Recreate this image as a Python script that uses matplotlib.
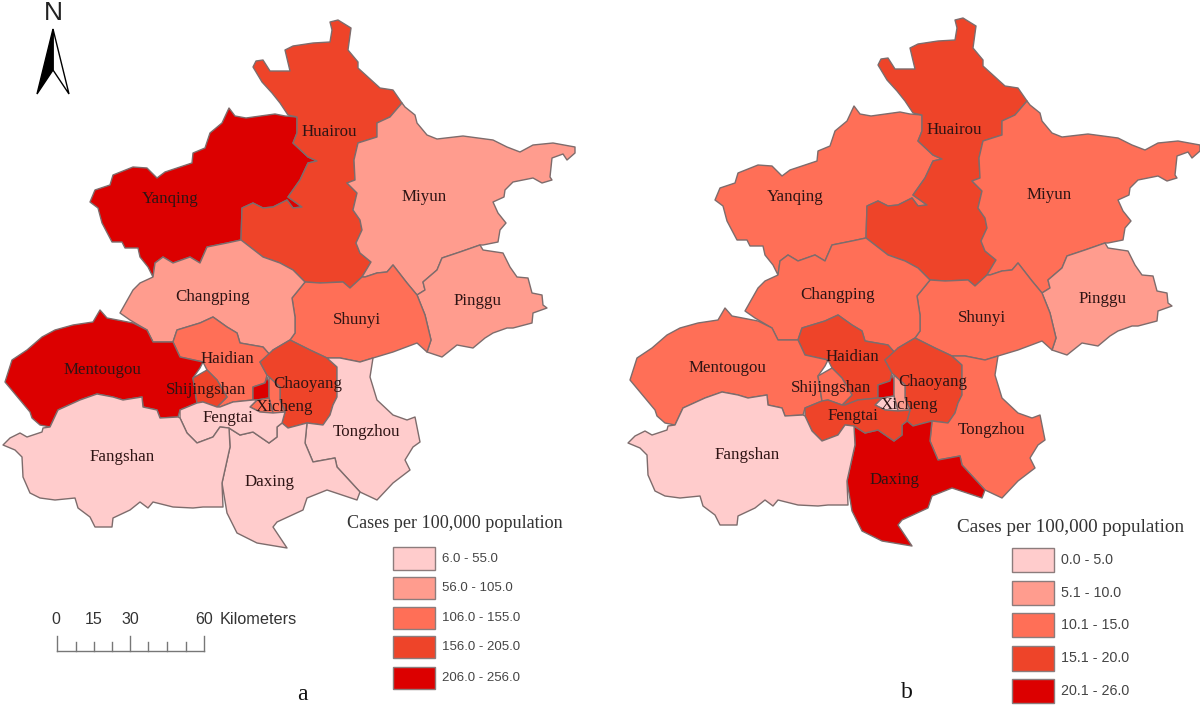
import matplotlib
matplotlib.use('Agg')
from matplotlib import pyplot as plt
from matplotlib.patches import Polygon, Rectangle

# district outlines for map a (pixel-like map units)
yanqing = [(229,108),(235,116),(246,118),(275,114),(285,116),(297,117),(297,133),(293,143),(308,157),(317,161),(308,163),(300,180),(288,197),(302,207),(293,208),(287,200),(273,207),(263,208),(253,203),(242,208),(241,240),(227,243),(207,247),(200,263),(190,257),(173,263),(163,257),(155,263),(153,277),(148,267),(140,257),(138,248),(125,248),(122,242),(112,242),(102,223),(98,208),(90,202),(95,190),(110,185),(113,175),(133,167),(147,168),(157,178),(165,172),(192,163),(193,153),(205,148),(210,133),(222,123)]
huairou = [(330,22),(338,20),(351,28),(348,50),(358,62),(358,68),(380,88),(393,90),(402,103),(390,117),(377,123),(377,137),(358,143),(354,160),(355,180),(347,183),(357,193),(353,210),(360,220),(362,230),(356,243),(360,253),(371,262),(362,277),(350,288),(343,282),(320,283),(305,282),(293,270),(280,263),(263,257),(241,240),(242,208),(253,203),(263,208),(273,207),(287,200),(293,208),(302,207),(288,197),(300,180),(308,163),(317,161),(308,157),(293,143),(297,133),(297,117),(288,115),(280,103),(272,93),(262,82),(253,67),(256,61),(263,60),(270,71),(290,71),(285,50),(293,46),(313,43),(330,42),(332,30)]
miyun = [(402,103),(405,107),(415,115),(417,123),(427,135),(437,139),(463,136),(493,140),(507,147),(520,152),(533,145),(553,143),(575,147),(575,153),(567,160),(563,154),(552,158),(550,177),(552,180),(542,183),(533,178),(513,182),(505,190),(504,197),(493,202),(498,213),(506,223),(500,230),(498,242),(483,245),(480,245),(460,252),(442,258),(437,270),(423,282),(425,290),(417,295),(407,283),(393,265),(387,272),(377,273),(365,277),(362,277),(371,262),(360,253),(356,243),(362,230),(360,220),(353,210),(357,193),(347,183),(355,180),(354,160),(358,143),(377,137),(377,123),(390,117)]
pinggu = [(480,245),(483,250),(503,253),(510,267),(517,277),(528,278),(532,293),(542,295),(543,305),(547,308),(533,313),(532,323),(513,328),(507,328),(493,333),(485,338),(473,348),(457,345),(442,357),(427,352),(431,340),(425,315),(417,295),(425,290),(423,282),(437,270),(442,258),(460,252)]
shunyi = [(292,298),(305,282),(320,283),(343,282),(350,288),(362,277),(365,277),(377,273),(387,272),(393,265),(407,283),(417,295),(425,315),(431,340),(427,352),(417,343),(393,352),(373,358),(360,362),(340,358),(327,358),(310,350),(290,340),(295,333),(295,317)]
changping = [(241,240),(227,243),(207,247),(200,263),(190,257),(173,263),(163,257),(155,263),(153,277),(140,283),(133,290),(120,313),(130,320),(147,330),(153,342),(173,342),(177,330),(200,323),(213,317),(227,327),(237,333),(240,343),(263,347),(270,355),(273,350),(290,340),(295,333),(295,317),(292,298),(305,282),(293,270),(280,263),(263,257)]
mentougou = [(100,310),(107,318),(133,323),(147,330),(153,342),(173,342),(180,357),(203,362),(200,368),(193,378),(197,403),(180,410),(178,417),(160,418),(157,410),(143,407),(142,397),(123,400),(113,397),(97,394),(80,400),(58,410),(50,427),(40,425),(32,418),(30,412),(20,400),(5,382),(12,360),(27,350),(42,337),(55,330),(73,325),(93,322)]
shijingshan = [(193,378),(207,370),(217,380),(227,397),(217,407),(203,402),(197,403)]
haidian = [(177,330),(200,323),(213,317),(227,327),(237,333),(240,343),(263,347),(270,355),(260,362),(267,375),(265,383),(253,387),(253,400),(233,402),(220,407),(217,407),(227,397),(217,380),(207,370),(203,362),(180,357),(173,342)]
xicheng = [(253,387),(265,383),(267,377),(269,382),(269,398),(257,400),(253,400)]
dongcheng = [(269,377),(280,387),(280,400),(285,412),(273,413),(269,398),(269,382)]
xuanwu = [(257,400),(269,398),(273,413),(260,412),(250,407)]
chaoyang = [(260,362),(273,350),(290,340),(310,350),(327,358),(337,367),(337,397),(333,405),(330,415),(323,425),(307,423),(288,428),(282,423),(285,412),(280,400),(280,387),(269,377),(267,375)]
tongzhou = [(327,358),(340,358),(360,362),(373,358),(370,377),(377,400),(393,415),(407,420),(415,417),(420,442),(413,447),(405,460),(410,470),(393,483),(377,500),(360,492),(337,467),(335,458),(313,462),(305,443),(307,423),(323,425),(330,415),(333,405),(337,397),(337,367)]
daxing = [(229,428),(230,447),(222,483),(227,513),(237,533),(257,543),(287,548),(273,527),(277,522),(303,510),(307,498),(327,490),(357,500),(360,492),(337,467),(335,458),(313,462),(305,443),(307,423),(288,428),(282,423),(277,427),(277,437),(269,443),(253,432),(240,435)]
fengtai = [(180,418),(187,433),(197,443),(213,437),(220,427),(229,428),(240,435),(253,432),(269,443),(277,437),(277,427),(282,423),(285,412),(273,413),(260,412),(250,407),(257,400),(253,400),(233,402),(220,407),(217,407),(203,402),(197,403),(180,410)]
fangshan = [(43,428),(50,427),(58,410),(80,400),(97,394),(113,397),(123,400),(142,397),(143,407),(157,410),(160,418),(178,417),(180,418),(187,433),(197,443),(213,437),(220,427),(229,428),(230,447),(222,483),(223,507),(203,507),(193,508),(173,507),(153,502),(148,508),(140,502),(130,510),(113,518),(112,527),(95,527),(90,517),(78,508),(75,498),(55,500),(40,498),(30,493),(23,477),(22,457),(15,450),(3,445),(10,438),(20,433),(27,437),(42,432)]

districts = ['Yanqing','Huairou','Miyun','Pinggu','Shunyi','Changping','Haidian','Mentougou','Shijingshan','Chaoyang','Xicheng','Dongcheng','Xuanwu','Tongzhou','Daxing','Fengtai','Fangshan']
outlines = [yanqing,huairou,miyun,pinggu,shunyi,changping,haidian,mentougou,shijingshan,chaoyang,xicheng,dongcheng,xuanwu,tongzhou,daxing,fengtai,fangshan]

# class of each district (index in colours), same order as districts
classes_a = [4,3,1,1,2,1,2,4,3,3,4,2,2,0,0,0,0]
classes_b = [2,3,2,1,2,2,3,2,2,3,4,1,0,2,4,3,0]

colours = ['#FFCCCC','#FF9C8E','#FF6F57','#EE4429','#DC0000']
legend_a = ['6.0 - 55.0','56.0 - 105.0','106.0 - 155.0','156.0 - 205.0','206.0 - 256.0']
legend_b = ['0.0 - 5.0','5.1 - 10.0','10.1 - 15.0','15.1 - 20.0','20.1 - 26.0']

label_names = ['Huairou','Miyun','Pinggu','Shunyi','Yanqing','Changping','Mentougou','Haidian','Shijingshan','Fengtai','Fangshan','Daxing','Tongzhou','Chaoyang','Xicheng']
label_x = [329,424,478,357,170,213,102,227,206,228,122,270,366,308,284]
label_y = [132,197,301,320,199,297,370,359,390,418,457,482,432,384,407]

scale_ticks = [57,76,94,112,130,148,167,186,204]
scale_tall = [57,130,204]
scale_labels = ['0','15','30','60']
scale_label_x = [56,94,130,204]

serif = 'Liberation Serif'
sans = 'Liberation Sans'
edge = '#7D6C6C'

fig = plt.figure(figsize=(12, 7.08), dpi=100)
ax = fig.add_axes([0, 0, 1, 1])
ax.set_xlim(0, 1200)
ax.set_ylim(708, 0)
ax.axis('off')


def draw_map(classes, dx, dy):
    for outline, cls in zip(outlines, classes):
        pts = [(x + dx, y + dy) for x, y in outline]
        ax.add_patch(Polygon(pts, closed=True, facecolor=colours[cls], edgecolor=edge, lw=1, joinstyle='round'))
    for name, x, y in zip(label_names, label_x, label_y):
        ax.text(x + dx, y + dy, name, family=serif, fontsize=12.2, color='#2E1414', ha='center', va='center')


def draw_legend(title, labels, title_x, title_y, title_size, box_x, box_w, box_tops, box_h, text_x, text_size):
    ax.text(title_x, title_y, title, family=serif, fontsize=title_size, color='#333333', ha='left', va='center')
    for label, colour, top, h in zip(labels, colours, box_tops, box_h):
        ax.add_patch(Rectangle((box_x, top), box_w, h, facecolor=colour, edgecolor='#8C7C7C', lw=1))
        ax.text(text_x, top + h / 2, label, family=sans, fontsize=text_size, color='#444444', ha='left', va='center')


draw_map(classes_a, 0, 0)
draw_map(classes_b, 625, -2)

draw_legend('Cases per 100,000 population', legend_a, 347, 524, 13.1, 393, 42, [547,577,607,636,667], [23,22,22,22,22], 442, 9.5)
draw_legend('Cases per 100,000 population', legend_b, 957, 527, 13.8, 1012, 42, [548,581,613,646,679], [24,24,24,25,24], 1061, 10.3)

# scale bar
ax.plot([scale_ticks[0], scale_ticks[-1]], [651, 651], color='#777777', lw=1)
for x in scale_ticks:
    ax.plot([x, x], [636 if x in scale_tall else 642, 651], color='#777777', lw=1)
for x, label in zip(scale_label_x, scale_labels):
    ax.text(x, 619, label, family=sans, fontsize=11.5, color='#333333', ha='center', va='center')
ax.text(220, 619, 'Kilometers', family=sans, fontsize=11.7, color='#333333', ha='left', va='center')

# north arrow
ax.text(53, 13, 'N', family=sans, fontsize=19, color='#222222', ha='center', va='center')
ax.add_patch(Polygon([(53,29),(69,94),(53,70)], closed=True, facecolor='white', edgecolor='black', lw=1))
ax.add_patch(Polygon([(53,29),(37,94),(53,70)], closed=True, facecolor='black', edgecolor='black', lw=1))

ax.text(302, 695, 'a', family=serif, fontsize=17, color='#111111', ha='center', va='center')
ax.text(907, 693, 'b', family=serif, fontsize=17, color='#111111', ha='center', va='center')

fig.savefig('out.png', dpi=100)
